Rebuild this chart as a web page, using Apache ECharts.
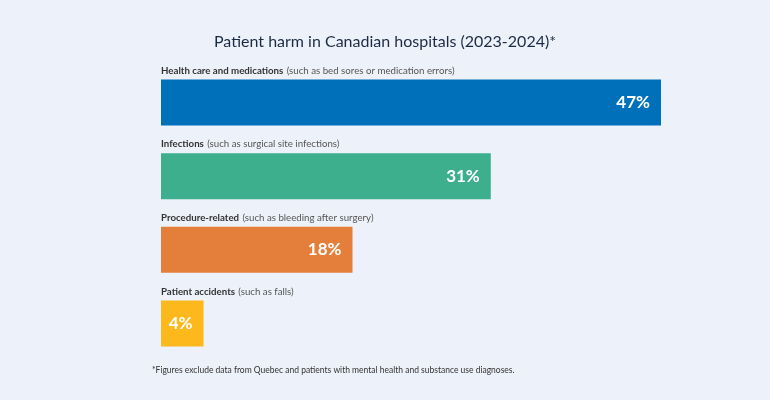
<!DOCTYPE html>
<html><head><meta charset="utf-8">
<script src="https://cdn.jsdelivr.net/npm/echarts@6/dist/echarts.min.js"></script>
<style>html,body{margin:0;padding:0;background:#edf1f9;}#c{width:770px;height:400px;}</style>
</head><body><div id="c"></div>
<script>
var categories = ['Health care and medications', 'Infections', 'Procedure-related', 'Patient accidents'];
var details = ['(such as bed sores or medication errors)', '(such as surgical site infections)', '(such as bleeding after surgery)', '(such as falls)'];
var values = [47, 31, 18, 4];
var colors = ['#0070bb', '#3daf8c', '#e37f3b', '#fdb81c'];
var titleText = 'Patient harm in Canadian hospitals (2023-2024)*';
var footnote = '*Figures exclude data from Quebec and patients with mental health and substance use diagnoses.';

var chart = echarts.init(document.getElementById('c'));
var font = 'Lato, "Open Sans", sans-serif';
chart.setOption({
  backgroundColor: '#edf1f9',
  animation: false,
  title: [{
    text: titleText, left: 'center', top: 29,
    textStyle: {fontFamily: font, fontSize: 16, fontWeight: 'normal', color: '#1b2b45'}
  }, {
    text: footnote, left: 147, top: 361,
    textStyle: {fontFamily: font, fontSize: 8.5, fontWeight: 'normal', color: '#333'}
  }],
  grid: {left: 161, width: 500, top: 65.6, height: 294.8},
  xAxis: {type: 'value', min: 0, max: 47, show: false},
  yAxis: {type: 'category', data: categories, inverse: true, show: false},
  series: [{
    type: 'bar', barWidth: 46,
    data: values.map(function (v, i) { return {value: v, itemStyle: {color: colors[i]}}; }),
    label: {
      show: true, position: [0, -3], verticalAlign: 'bottom', align: 'left',
      formatter: function (p) { return '{b|' + categories[p.dataIndex] + '} {n|' + details[p.dataIndex] + '}'; },
      rich: {
        b: {fontFamily: font, fontSize: 9.7, fontWeight: 'bold', color: '#333'},
        n: {fontFamily: font, fontSize: 9.7, color: '#555'}
      }
    }
  }, {
    type: 'bar', barWidth: 46, barGap: '-100%', silent: true,
    data: values,
    itemStyle: {color: 'rgba(0,0,0,0)'},
    label: {
      show: true, position: 'insideRight', distance: 11,
      formatter: '{c}%',
      fontFamily: font, fontSize: 17, fontWeight: 'bold', color: '#fff'
    }
  }]
});
</script></body></html>
